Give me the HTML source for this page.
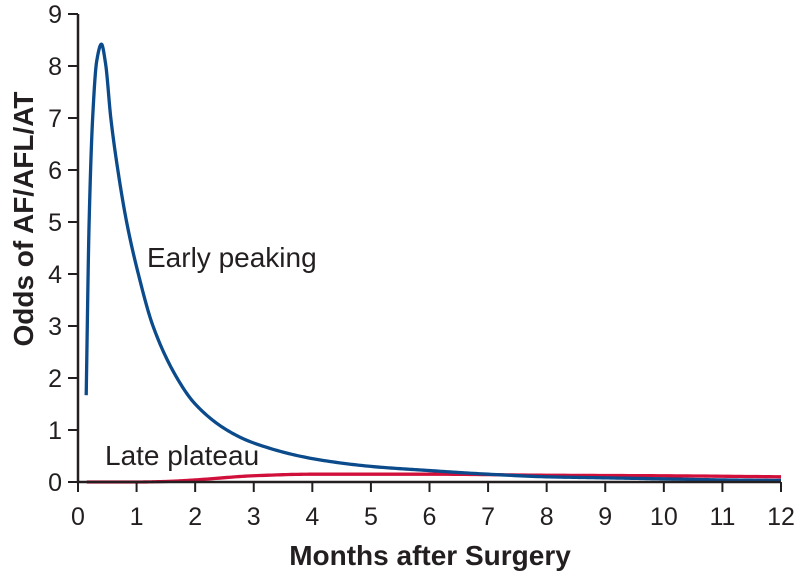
<!DOCTYPE html>
<html><head><meta charset="utf-8"><style>
body{margin:0;background:#fff}
svg text{font-family:"Liberation Sans",Arial,sans-serif;fill:#231f20}
</style></head><body>
<svg id="c" width="800" height="577" viewBox="0 0 800 577" xmlns="http://www.w3.org/2000/svg"></svg>
<script>
const xTicks=[0,1,2,3,4,5,6,7,8,9,10,11,12];
const yTicks=[0,1,2,3,4,5,6,7,8,9];
const earlyX=[0.14,0.19,0.25,0.32,0.40,0.47,0.56,0.68,0.83,1.03,1.28,1.69,2.0,2.54,3,4,5,6,7,8,9,10,11,12];
const earlyY=[1.67,5.0,7.0,8.1,8.42,8.05,7.0,6.0,5.0,4.0,3.0,2.0,1.5,1.0,0.75,0.45,0.3,0.22,0.15,0.1,0.08,0.06,0.04,0.03];
const lateX=[0.15,1,1.5,2,3,4,6,8,10,12];
const lateY=[0,0,0.01,0.04,0.12,0.15,0.15,0.13,0.12,0.1];
const NS="http://www.w3.org/2000/svg";
const svg=document.getElementById('c');
const X=v=>78+v*(781-78)/12, Y=v=>482-v*(482-14)/9;
function mk(t,a,p){const e=document.createElementNS(NS,t);for(const k in a)e.setAttribute(k,a[k]);(p||svg).appendChild(e);return e;}
function path(xs,ys){
  const n=xs.length,d=[],m=new Array(n);
  for(let i=0;i<n-1;i++)d.push((ys[i+1]-ys[i])/(xs[i+1]-xs[i]));
  m[0]=d[0];m[n-1]=d[n-2];
  for(let i=1;i<n-1;i++){
    if(d[i-1]*d[i]<=0)m[i]=0;
    else{const h0=xs[i]-xs[i-1],h1=xs[i+1]-xs[i],w1=2*h1+h0,w2=h1+2*h0;m[i]=(w1+w2)/(w1/d[i-1]+w2/d[i]);}
  }
  let s=`M${X(xs[0])},${Y(ys[0])}`;
  for(let i=0;i<n-1;i++){const h=xs[i+1]-xs[i];
    for(let k=1;k<=20;k++){const t=k/20,t2=t*t,t3=t2*t;
      const y=(2*t3-3*t2+1)*ys[i]+(t3-2*t2+t)*h*m[i]+(-2*t3+3*t2)*ys[i+1]+(t3-t2)*h*m[i+1];
      s+=` L${X(xs[i]+t*h).toFixed(2)},${Y(y).toFixed(2)}`;}}
  return s;}
const late=mk('path',{d:path(lateX,lateY),fill:'none',stroke:'#d0103a','stroke-width':3.3});


const early=mk('path',{d:path(earlyX,earlyY),fill:'none',stroke:'#0b4a8b','stroke-width':3.3,'stroke-linejoin':'round'});


const ax=mk('path',{d:`M${X(0)},${Y(9)} V${Y(0)} H${X(12)}`,fill:'none',stroke:'#231f20','stroke-width':2.5});


yTicks.forEach(v=>{const l=mk('line',{x1:X(0)-10,x2:X(0),y1:Y(v),y2:Y(v),stroke:'#231f20','stroke-width':2});


const t=mk('text',{x:X(0)-16,y:Y(v)+9,'text-anchor':'end','font-size':25});t.textContent=v;

});
xTicks.forEach(v=>{const l=mk('line',{x1:X(v),x2:X(v),y1:Y(0),y2:Y(0)+10,stroke:'#231f20','stroke-width':2});


const t=mk('text',{x:X(v),y:Y(0)+43,'text-anchor':'middle','font-size':25});t.textContent=v;

});
</script>
<svg style="position:absolute;left:0;top:0" width="800" height="577">
<text x="430" y="565" text-anchor="middle" font-size="28" font-weight="bold">Months after Surgery</text>
<text transform="translate(33,219) rotate(-90)" text-anchor="middle" font-size="28" font-weight="bold">Odds of AF/AFL/AT</text>
<text x="147" y="267" font-size="28">Early peaking</text>
<text x="105" y="465" font-size="28">Late plateau</text>
</svg>
</body></html>
